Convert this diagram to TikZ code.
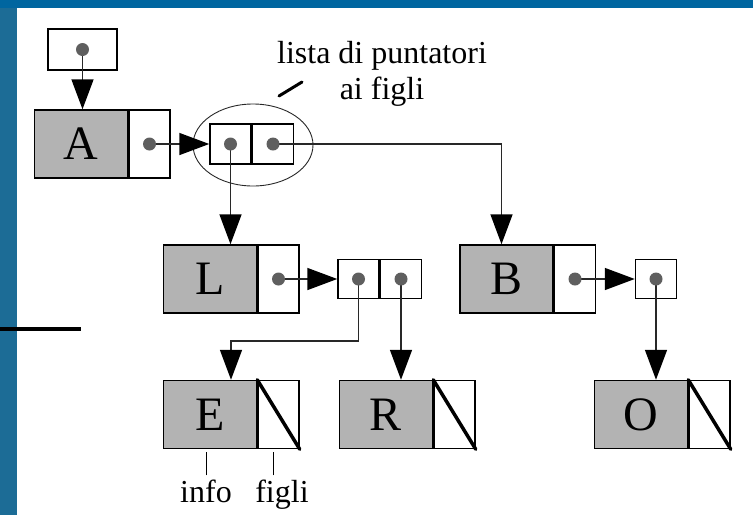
\documentclass[tikz,border=0pt]{standalone}
\usepackage{fontspec}
\setmainfont{Liberation Serif}
\usetikzlibrary{positioning,arrows.meta,shapes.geometric,calc}
\definecolor{slideblue}{RGB}{0,102,160}
\definecolor{stripblue}{RGB}{28,108,150}
\definecolor{infogray}{RGB}{179,179,179}
\definecolor{dotgray}{RGB}{95,95,95}
\definecolor{linegray}{RGB}{40,40,40}
\tikzset{
  infobox/.style={draw, fill=infogray, line width=1.5pt, minimum width=93pt, minimum height=68pt, inner sep=0pt, font=\fontsize{48}{48}\selectfont},
  ptrbox/.style={draw, fill=white, line width=1.5pt, minimum width=41pt, minimum height=68pt, inner sep=0pt},
  cellbox/.style={draw, fill=white, line width=1.5pt, minimum width=41pt, minimum height=40pt, inner sep=0pt},
  ptrdot/.style={circle, fill=dotgray, minimum size=13pt, inner sep=0pt},
  link/.style={draw=linegray, line width=1.6pt, -{Triangle[length=30pt,width=22pt,color=black]}},
  nil/.style={line width=3.5pt, line cap=round},
  lbl/.style={inner sep=1pt, font=\fontsize{32}{36}\selectfont}
}
\begin{document}
\begin{tikzpicture}[x=1pt,y=-1pt]
\useasboundingbox (0,0) rectangle (753,515);
% sfondo della slide
\fill[slideblue] (0,0) rectangle (753,515);
\fill[stripblue] (0,8) rectangle (17,515);
\fill[white] (17,8) rectangle (753,515);
\draw[line width=4pt] (0,329)--(81,329);

% radice
\node[cellbox, minimum width=69pt, minimum height=41pt] (head) at (82.5,49.5) {};
\node[infobox] (A) at (81,144) {A};
\node[ptrbox, right=0pt of A] (Ap) {};
\node[cellbox] (Ac1) at (230.5,144) {};
\node[cellbox, right=0pt of Ac1] (Ac2) {};
\node[draw=linegray, ellipse, line width=0.9pt,
  minimum width=120pt, minimum height=82pt] (Agroup) at (253,145) {};
\node[lbl, align=center] (lista) at (382,73.5) {lista di puntatori\\ai figli};
\draw[line width=3pt, line cap=round] (279,96) -- (302,82);

% figli di A
\node[infobox] (L) at (210,279) {L};
\node[ptrbox, right=0pt of L] (Lp) {};
\node[cellbox, minimum height=39pt] (Lc1) at (358.5,279) {};
\node[cellbox, minimum height=39pt, right=0pt of Lc1] (Lc2) {};
\node[infobox] (B) at (506.5,279) {B};
\node[ptrbox, right=0pt of B] (Bp) {};
\node[cellbox, minimum height=39pt] (Bc) at (656,279) {};

% foglie
\node[infobox] (E) at (210,414.5) {E};
\node[ptrbox, right=0pt of E] (Ep) {};
\node[infobox] (R) at (386,414.5) {R};
\node[ptrbox, right=0pt of R] (Rp) {};
\node[infobox] (O) at (641,414.5) {O};
\node[ptrbox, right=0pt of O] (Op) {};
\foreach \n in {Ep,Rp,Op}{
\draw[nil] (\n.north west) -- (\n.south east);
}

% puntatori
\draw[link] (head.center) -- (A.north -| head);
\draw[link] (Ap.center) -- (Ac1.west);
\draw[link] (Ac1.center) -- (L.north -| Ac1);
\draw[link] (Ac2.center) -| ([xshift=-5pt]B.north);
\draw[link] (Lp.center) -- (Lc1.west);
\coordinate (Lbend) at (358.5,341);
\draw[link] (Lc1.center) -- (Lbend) -| ([xshift=21pt]E.north);
\draw[link] (Lc2.center) -- (R.north -| Lc2);
\draw[link] (Bp.center) -- (Bc.west);
\draw[link] (Bc.center) -- (O.north -| Bc);
\foreach \n in {head,Ap,Ac1,Ac2,Lp,Lc1,Lc2,Bp,Bc}{
\node[ptrdot] (\n-d) at (\n.center) {};
}

% campi del nodo
\node[lbl, anchor=base] (info) at (206,502) {info};
\node[lbl, anchor=base] (figli) at (282,502) {figli};
\draw[line width=1pt] ($(info.north)+(0,-3)$) -- ($(E.south -| info.north)+(0,3)$);
\draw[line width=1pt] ($(figli.north)+(-9,-3)$) -- ($(E.south -| figli.north)+(-9,3)$);
\end{tikzpicture}
\end{document}
